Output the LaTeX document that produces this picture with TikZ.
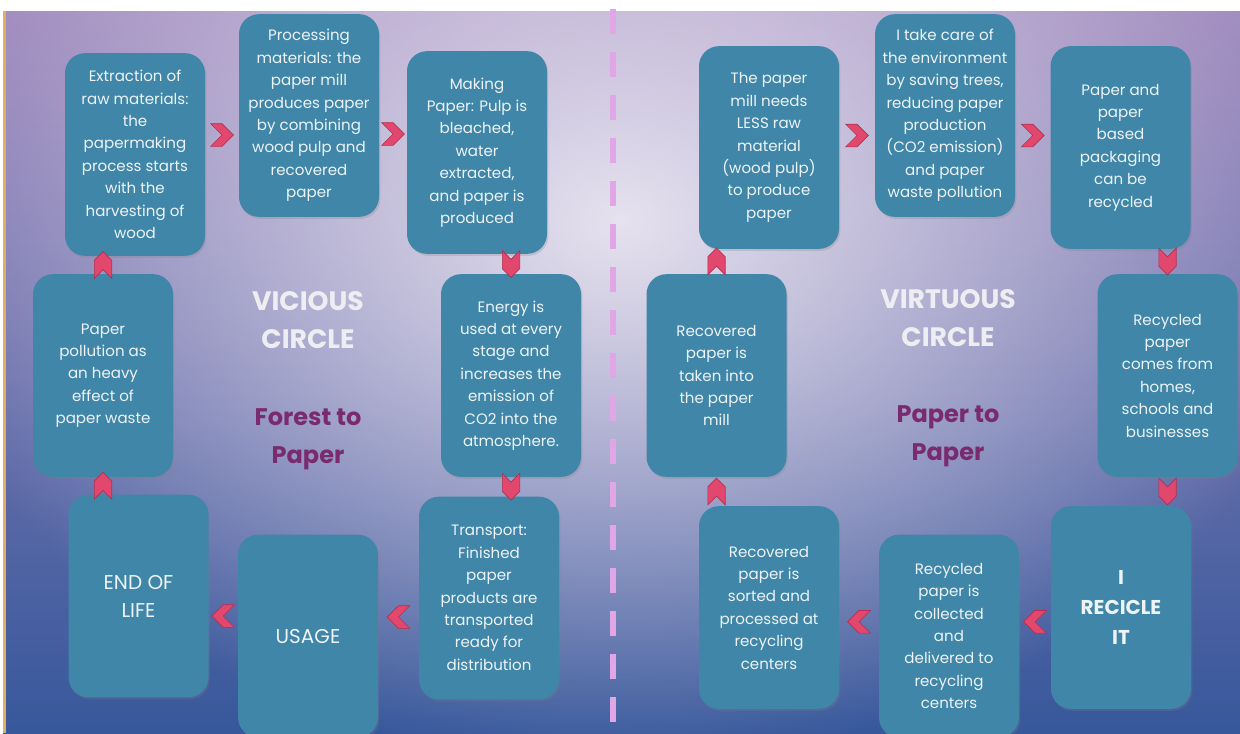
\documentclass[tikz,border=0pt]{standalone}
\usepackage{fontspec}
\setmainfont{Poppins}
\usetikzlibrary{positioning,shapes.symbols,shadows,fadings}

\definecolor{boxblue}{HTML}{3F86A8}
\definecolor{boxtext}{HTML}{EEF3F5}
\definecolor{chevfill}{HTML}{E2476E}
\definecolor{chevline}{HTML}{B3304F}
\definecolor{bgtop}{HTML}{9E88BD}
\definecolor{bgmid}{HTML}{7A7DB4}
\definecolor{bgbot}{HTML}{37589B}
\definecolor{glowcol}{HTML}{E6E2EF}
\definecolor{divcol}{HTML}{E0A6E6}
\definecolor{titlegrey}{HTML}{EEEEF2}
\definecolor{titleplum}{HTML}{7A2A6E}
\definecolor{edgeorange}{HTML}{E3AE62}

\tikzfading[name=glow, inner color=transparent!0, outer color=transparent!100]

\tikzset{
  stage/.style={rounded corners=15pt, fill=boxblue, text=boxtext, minimum width=105pt, minimum height=152pt, inner sep=0pt, align=center, font=\fontsize{11.3}{16.8}\selectfont, drop shadow={opacity=0.25, shadow xshift=1pt, shadow yshift=-1.5pt}},
  bigtext/.style={font=\fontsize{15}{21}\selectfont},
  title/.style={text=titlegrey, align=center, font=\bfseries\fontsize{20}{28}\selectfont},
  subtitle/.style={text=titleplum, align=center, font=\bfseries\fontsize{18}{28.5}\selectfont},
  chev/.style={signal, fill=chevfill, draw=chevline, line width=0.5pt, inner sep=0pt, signal pointer angle=90},
  chevR/.style={chev, signal to=east, signal from=west, minimum width=14pt, minimum height=17pt},
  chevL/.style={chev, signal to=west, signal from=east, minimum width=14pt, minimum height=17pt},
  chevU/.style={chev, signal to=north, signal from=south, minimum width=13pt, minimum height=7pt},
  chevD/.style={chev, signal to=south, signal from=north, minimum width=13pt, minimum height=7pt}
}

\begin{document}
\begin{tikzpicture}[x=0.75pt,y=-0.75pt]
	\useasboundingbox (0,0) rectangle (1240,733);

	%background
	\fill[white] (0,0) rectangle (1240,733);
	\begin{scope}
		\clip (3,11) rectangle (1240,733);
		\shade[top color=bgtop, middle color=bgmid, bottom color=bgbot] (3,11) rectangle (1240,733);
		\fill[glowcol, path fading=glow] (-100,-320) rectangle (1340,760);
	\end{scope}
	\fill[edgeorange] (3,11) rectangle (6,733);
	\draw[divcol, line width=4.5pt, dash pattern=on 18.75pt off 13.5pt] (613,9) -- (613,733);

	%vicious circle
	\node[stage] (extract) at (135,154.5) {Extraction of\\raw materials:\\the\\papermaking\\process starts\\with the\\harvesting of\\wood};
	\node[stage] (process) at (309,115.5) {Processing\\materials: the\\paper mill\\produces paper\\by combining\\wood pulp and\\recovered\\paper};
	\node[stage] (making) at (477,152.5) {Making\\Paper: Pulp is\\bleached,\\water\\extracted,\\and paper is\\produced};
	\node[stage] (pollution) at (103,375.5) {Paper\\pollution as\\an heavy\\effect of\\paper waste};
	\node[stage] (energy) at (511,375.5) {Energy is\\used at every\\stage and\\increases the\\emission of\\CO2 into the\\atmosphere.};
	\node[stage, bigtext] (endlife) at (138.5,596) {END OF\\LIFE};
	\node[stage, bigtext] (usage) at (308,636) {USAGE};
	\node[stage] (transport) at (489,598) {Transport:\\Finished\\paper\\products are\\transported\\ready for\\distribution};

	%virtuous circle
	\node[stage] (lessraw) at (769,147.5) {The paper\\mill needs\\LESS raw\\material\\(wood pulp)\\to produce\\paper};
	\node[stage] (care) at (945,115.5) {I take care of\\the environment\\by saving trees,\\reducing paper\\production\\(CO2 emission)\\and paper\\waste pollution};
	\node[stage] (packaging) at (1120.5,147.5) {Paper and\\paper\\based\\packaging\\can be\\recycled};
	\node[stage] (intomill) at (716.5,375.5) {Recovered\\paper is\\taken into\\the paper\\mill};
	\node[stage] (homes) at (1167.5,375.5) {Recycled\\paper\\comes from\\homes,\\schools and\\businesses};
	\node[stage] (sorted) at (769,607.5) {Recovered\\paper is\\sorted and\\processed at\\recycling\\centers};
	\node[stage] (collected) at (949,636) {Recycled\\paper is\\collected\\and\\delivered to\\recycling\\centers};
	\node[stage, font=\bfseries\fontsize{15}{22.5}\selectfont] (recicle) at (1121,607.5) {I\\RECICLE\\IT};

	%titles
	\node[title] (vicious) at (308,320) {VICIOUS\\CIRCLE};
	\node[subtitle] (forest) at (308,439) {Forest to\\Paper};
	\node[title] (virtuous) at (948,318) {VIRTUOUS\\CIRCLE};
	\node[subtitle] (paper) at (948,436) {Paper to\\Paper};

	%arrows
	\path (extract.east) -- node[chevR] {} (process.west);
	\path (process.east) -- node[chevR] {} (making.west);
	\path (making.south -| energy.north) -- node[chevD] {} (energy.north);
	\path (energy.south) -- node[chevD] {} (energy.south |- transport.north);
	\path (transport.west) -- node[chevL] {} (usage.east);
	\path (usage.west) -- node[chevL] {} (endlife.east);
	\path (endlife.north -| pollution.south) -- node[chevU] {} (pollution.south);
	\path (pollution.north) -- node[chevU] {} (pollution.north |- extract.south);

	\path (lessraw.east) -- node[chevR, yshift=-3pt] {} (care.west);
	\path (care.east) -- node[chevR, yshift=-3pt] {} (packaging.west);
	\path (packaging.south -| homes.north) -- node[chevD] {} (homes.north);
	\path (homes.south) -- node[chevD] {} (homes.south |- recicle.north);
	\path (recicle.west) -- node[chevL] {} (collected.east);
	\path (collected.west) -- node[chevL] {} (sorted.east);
	\path (sorted.north -| intomill.south) -- node[chevU] {} (intomill.south);
	\path (intomill.north) -- node[chevU] {} (intomill.north |- lessraw.south);
\end{tikzpicture}
\end{document}
